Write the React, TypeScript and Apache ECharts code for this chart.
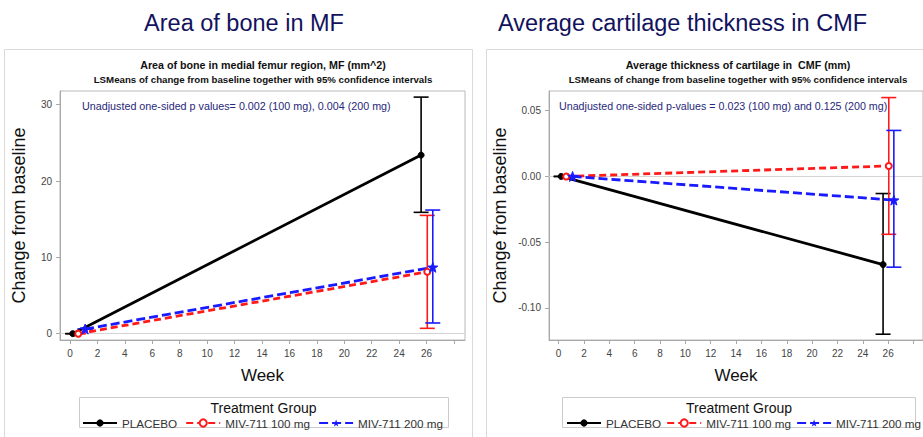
import React, { useEffect, useRef } from "react";
import * as echarts from "echarts";

// ---------- Data ----------
const groupNames = ["PLACEBO", "MIV-711 100 mg", "MIV-711 200 mg"];
const xTickValues = [0, 2, 4, 6, 8, 10, 12, 14, 16, 18, 20, 22, 24, 26, 28];
const xLabelValues = [0, 2, 4, 6, 8, 10, 12, 14, 16, 18, 20, 22, 24, 26];
const boneYTicks = [0, 10, 20, 30];
const cartYTicks = [-0.1, -0.05, 0, 0.05];

// plotted week positions (clustered around visits 0 and 26)
const weeksPlacebo = [0.2, 25.6];
const weeks100 = [0.6, 26.05];
const weeks200 = [1.1, 26.45];

// Area of bone in MF (mm^2)
const bonePlacebo = [0, 23.4];
const bonePlaceboLo = [0, 15.9];
const bonePlaceboHi = [0, 31.0];
const bone100 = [0, 8.1];
const bone100Lo = [0, 0.7];
const bone100Hi = [0, 15.5];
const bone200 = [0.6, 8.7];
const bone200Lo = [0.6, 1.4];
const bone200Hi = [0.6, 16.2];

// Average cartilage thickness in CMF (mm)
const cartPlacebo = [0, -0.067];
const cartPlaceboLo = [0, -0.12];
const cartPlaceboHi = [0, -0.013];
const cart100 = [0, 0.008];
const cart100Lo = [0, -0.044];
const cart100Hi = [0, 0.06];
const cart200 = [0, -0.018];
const cart200Lo = [0, -0.069];
const cart200Hi = [0, 0.035];

const FONT = '"Liberation Sans", Arial, sans-serif';
const STAR =
  "path://M0,-10 L2.35,-3.24 L9.51,-3.09 L3.8,1.24 L5.88,8.09 L0,4 L-5.88,8.09 L-3.8,1.24 L-9.51,-3.09 L-2.35,-3.24 Z";
const colors = ["#000000", "#ff1a1a", "#1a1aff"];
const symbols = ["circle", "emptyCircle", STAR];
const symbolSizes = [6, 6, 10];
const lineTypes: any[] = ["solid", [7, 4], [9, 4]];

function pairs(xs: number[], ys: number[]) {
  return xs.map((x, i) => [x, ys[i]]);
}
function triples(xs: number[], lo: number[], hi: number[]) {
  return xs.map((x, i) => [x, lo[i], hi[i]]);
}

function errorBarSeries(data: number[][], color: string, idx: number) {
  return {
    type: "custom",
    xAxisIndex: idx,
    yAxisIndex: idx,
    z: 2,
    silent: true,
    encode: { x: 0, y: [1, 2] },
    data,
    renderItem: (params: any, api: any) => {
      const x = api.value(0);
      const lo = api.coord([x, api.value(1)]);
      const hi = api.coord([x, api.value(2)]);
      const w = 7.5;
      const style = { stroke: color, lineWidth: 1.6, fill: "none" };
      return {
        type: "group",
        children: [
          { type: "line", shape: { x1: lo[0], y1: lo[1], x2: hi[0], y2: hi[1] }, style },
          { type: "line", shape: { x1: lo[0] - w, y1: lo[1], x2: lo[0] + w, y2: lo[1] }, style },
          { type: "line", shape: { x1: hi[0] - w, y1: hi[1], x2: hi[0] + w, y2: hi[1] }, style },
        ],
      };
    },
  };
}

function lineSeries(gi: number, data: number[][], idx: number, withRef: boolean) {
  const s: any = {
    type: "line",
    name: groupNames[gi],
    xAxisIndex: idx,
    yAxisIndex: idx,
    data,
    z: 3,
    symbol: symbols[gi],
    symbolSize: symbolSizes[gi],
    showSymbol: true,
    itemStyle: { color: colors[gi], borderColor: colors[gi] },
    lineStyle: { color: colors[gi], width: 2.8, type: lineTypes[gi] },
  };
  if (withRef) {
    s.markLine = {
      silent: true,
      symbol: "none",
      z: 1,
      label: { show: false },
      lineStyle: { color: "#d4d4d4", width: 1, type: "solid" },
      data: [{ yAxis: 0 }],
    };
  }
  return s;
}

function xAxis(idx: number, min: number, max: number) {
  return {
    type: "value",
    gridIndex: idx,
    min,
    max,
    name: "Week",
    nameLocation: "middle",
    nameGap: 27,
    nameTextStyle: { fontSize: 17, color: "#111", fontFamily: FONT },
    axisLine: { show: true, onZero: false, lineStyle: { color: "#a8a8a8" } },
    axisTick: { show: true, length: 4, lineStyle: { color: "#a8a8a8" }, customValues: xTickValues },
    axisLabel: { fontSize: 10, color: "#444", margin: 8, fontFamily: FONT, customValues: xLabelValues },
    splitLine: { show: false },
  };
}

function yAxis(idx: number, min: number, max: number, ticks: number[], gap: number, dec: number) {
  return {
    type: "value",
    gridIndex: idx,
    min,
    max,
    name: "Change from baseline",
    nameLocation: "middle",
    nameGap: gap,
    nameTextStyle: { fontSize: 18, color: "#111", fontFamily: FONT },
    axisLine: { show: true, onZero: false, lineStyle: { color: "#a8a8a8" } },
    axisTick: { show: true, length: 4, lineStyle: { color: "#a8a8a8" }, customValues: ticks },
    axisLabel: {
      fontSize: 10,
      color: "#444",
      margin: 8,
      fontFamily: FONT,
      customValues: ticks,
      formatter: (v: number) => (dec > 0 ? v.toFixed(dec) : String(Math.round(v))),
    },
    splitLine: { show: false },
  };
}

function text(t: string, x: number, y: number, size: number, color: string, align = "center", weight = "normal") {
  return {
    type: "text",
    silent: true,
    style: {
      text: t,
      x,
      y,
      align,
      verticalAlign: "middle",
      fontSize: size,
      fontWeight: weight,
      fill: color,
      fontFamily: FONT,
    },
  };
}

function rect(x: number, y: number, w: number, h: number, stroke: string) {
  return {
    type: "rect",
    silent: true,
    shape: { x, y, width: w, height: h },
    style: { fill: "none", stroke, lineWidth: 1 },
  };
}

function legend(left: number, gap: number) {
  return {
    data: groupNames,
    left,
    top: 417,
    width: 500,
    orient: "horizontal",
    itemWidth: 34,
    itemHeight: 9,
    itemGap: gap,
    padding: 0,
    textStyle: { fontSize: 11.7, color: "#333", fontFamily: FONT },
    selectedMode: false,
  };
}

export default function App() {
  const ref = useRef<HTMLDivElement>(null);
  useEffect(() => {
    if (!ref.current) return;
    const chart = echarts.init(ref.current, null, { renderer: "svg" });
    const navy = "#12125e";
    const option: any = {
      animation: false,
      backgroundColor: "#ffffff",
      grid: [
        { left: 60, top: 91, width: 405, height: 249, show: true, borderColor: "#b8b8b8", borderWidth: 1, backgroundColor: "transparent" },
        { left: 549, top: 91, width: 377, height: 249, show: true, borderColor: "#b8b8b8", borderWidth: 1, backgroundColor: "transparent" },
      ],
      xAxis: [xAxis(0, -0.73, 28.8), xAxis(1, -0.76, 28.75)],
      yAxis: [
        yAxis(0, -0.83, 31.8, boneYTicks, 32, 0),
        yAxis(1, -0.1244, 0.065, cartYTicks, 40, 2),
      ],
      legend: [legend(82, 8), legend(566, 5)],
      graphic: [
        rect(4.5, 49.5, 468, 420, "#dadada"),
        rect(486.5, 49.5, 460, 420, "#dadada"),
        text("Area of bone in MF", 244, 23, 23.5, navy),
        text("Average cartilage thickness in CMF", 682.5, 23, 23.5, navy),
        text("Area of bone in medial femur region, MF (mm^2)", 263, 65, 10.7, "#111", "center", "bold"),
        text("LSMeans of change from baseline together with 95% confidence intervals", 263, 79, 9.7, "#111", "center", "bold"),
        text("Average thickness of cartilage in  CMF (mm)", 738, 65, 10.7, "#111", "center", "bold"),
        text("LSMeans of change from baseline together with 95% confidence intervals", 738, 79, 9.7, "#111", "center", "bold"),
        text("Unadjusted one-sided p values= 0.002 (100 mg), 0.004 (200 mg)", 82, 106, 10.75, "#28287a", "left"),
        text("Unadjusted one-sided p-values = 0.023 (100 mg) and 0.125 (200 mg)", 559, 106, 10.7, "#28287a", "left"),
        rect(79.5, 397.5, 369, 30, "#cccccc"),
        rect(562.5, 397.5, 353, 30, "#cccccc"),
        text("Treatment Group", 263.5, 408, 14, "#111"),
        text("Treatment Group", 739, 408, 14, "#111"),
      ],
      series: [
        errorBarSeries(triples(weeksPlacebo, bonePlaceboLo, bonePlaceboHi), colors[0], 0),
        errorBarSeries(triples(weeks100, bone100Lo, bone100Hi), colors[1], 0),
        errorBarSeries(triples(weeks200, bone200Lo, bone200Hi), colors[2], 0),
        lineSeries(0, pairs(weeksPlacebo, bonePlacebo), 0, true),
        lineSeries(1, pairs(weeks100, bone100), 0, false),
        lineSeries(2, pairs(weeks200, bone200), 0, false),
        errorBarSeries(triples(weeksPlacebo, cartPlaceboLo, cartPlaceboHi), colors[0], 1),
        errorBarSeries(triples(weeks100, cart100Lo, cart100Hi), colors[1], 1),
        errorBarSeries(triples(weeks200, cart200Lo, cart200Hi), colors[2], 1),
        lineSeries(0, pairs(weeksPlacebo, cartPlacebo), 1, true),
        lineSeries(1, pairs(weeks100, cart100), 1, false),
        lineSeries(2, pairs(weeks200, cart200), 1, false),
      ],
    };
    chart.setOption(option);
    return () => chart.dispose();
  }, []);
  return (
    <div
      ref={ref}
      style={{ position: "fixed", left: 0, top: 0, width: 923, height: 437, background: "#fff" }}
    />
  );
}
